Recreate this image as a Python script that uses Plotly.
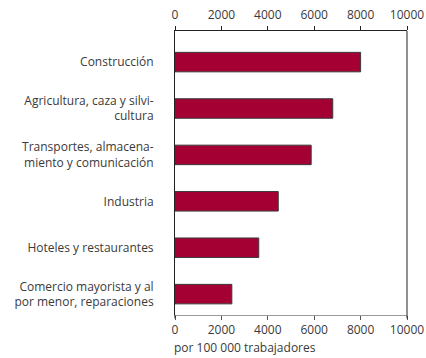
import plotly.graph_objects as go

# Sector labels (bottom to top) and rates per 100 000 workers
sectors = [
    "Comercio mayorista y al<br>por menor, reparaciones",
    "Hoteles y restaurantes",
    "Industria",
    "Transportes, almacena-<br>miento y comunicación",
    "Agricultura, caza y silvi-<br>cultura",
    "Construcción",
]
rates = [2450, 3610, 4450, 5870, 6800, 8000]
tick_values = [0, 2000, 4000, 6000, 8000, 10000]
tick_labels = ["0", "2000", "4000", "6000", "8000", "10000"]
x_title = "por 100 000 trabajadores"

text_color = "#3a3a3a"
frame_color = "#222222"
font_family = "Open Sans, Lato, sans-serif"

fig = go.Figure()
fig.add_trace(go.Bar(
    y=sectors, x=rates, orientation="h", width=0.42,
    marker=dict(color="#a50034", line=dict(color="#3a3a3a", width=1)),
    hoverinfo="x+y", showlegend=False,
))
# companion trace so the top axis is drawn
fig.add_trace(go.Scatter(
    x=[0], y=[sectors[0]], xaxis="x2", mode="markers",
    marker=dict(opacity=0), hoverinfo="skip", showlegend=False,
))

axis_common = dict(
    range=[0, 10000], tickvals=tick_values, ticktext=tick_labels,
    showgrid=False, zeroline=False, automargin=False,
    ticks="outside", ticklen=4, tickwidth=1,
    tickfont=dict(size=12, color=text_color, family=font_family),
)

fig.update_layout(
    template="none",
    width=426, height=358,
    margin=dict(l=175, r=19, t=31, b=43, autoexpand=False),
    plot_bgcolor="white", paper_bgcolor="white",
    font=dict(family=font_family, color=text_color, size=12),
    xaxis=dict(**axis_common, side="bottom", showline=True,
               linecolor="#9a9a9a", tickcolor="#555", ticklabelstandoff=0),
    xaxis2=dict(**axis_common, showline=True, linecolor=frame_color,
                tickcolor=frame_color, overlaying="x", anchor="y",
                side="top", matches="x", ticklabelstandoff=2),
    yaxis=dict(
        range=[-0.45, 5.67], showline=True, linecolor=frame_color,
        linewidth=1, ticks="", showgrid=False, ticklabelstandoff=18,
        automargin=False,
        tickfont=dict(size=12, color=text_color, family=font_family),
    ),
    shapes=[
        # right edge of the frame and the short extensions below the plot
        dict(type="line", xref="paper", yref="paper", x0=1, x1=1, y0=-0.012, y1=1,
             line=dict(color=frame_color, width=1)),
        dict(type="line", xref="paper", yref="paper", x0=0, x1=0, y0=-0.012, y1=0,
             line=dict(color=frame_color, width=1)),
    ],
    annotations=[dict(
        text=x_title, xref="paper", yref="paper", x=-0.015, y=-0.151,
        xanchor="left", yanchor="bottom", showarrow=False,
        font=dict(size=12, color=text_color, family=font_family),
    )],
)

fig.write_html("out.html")
